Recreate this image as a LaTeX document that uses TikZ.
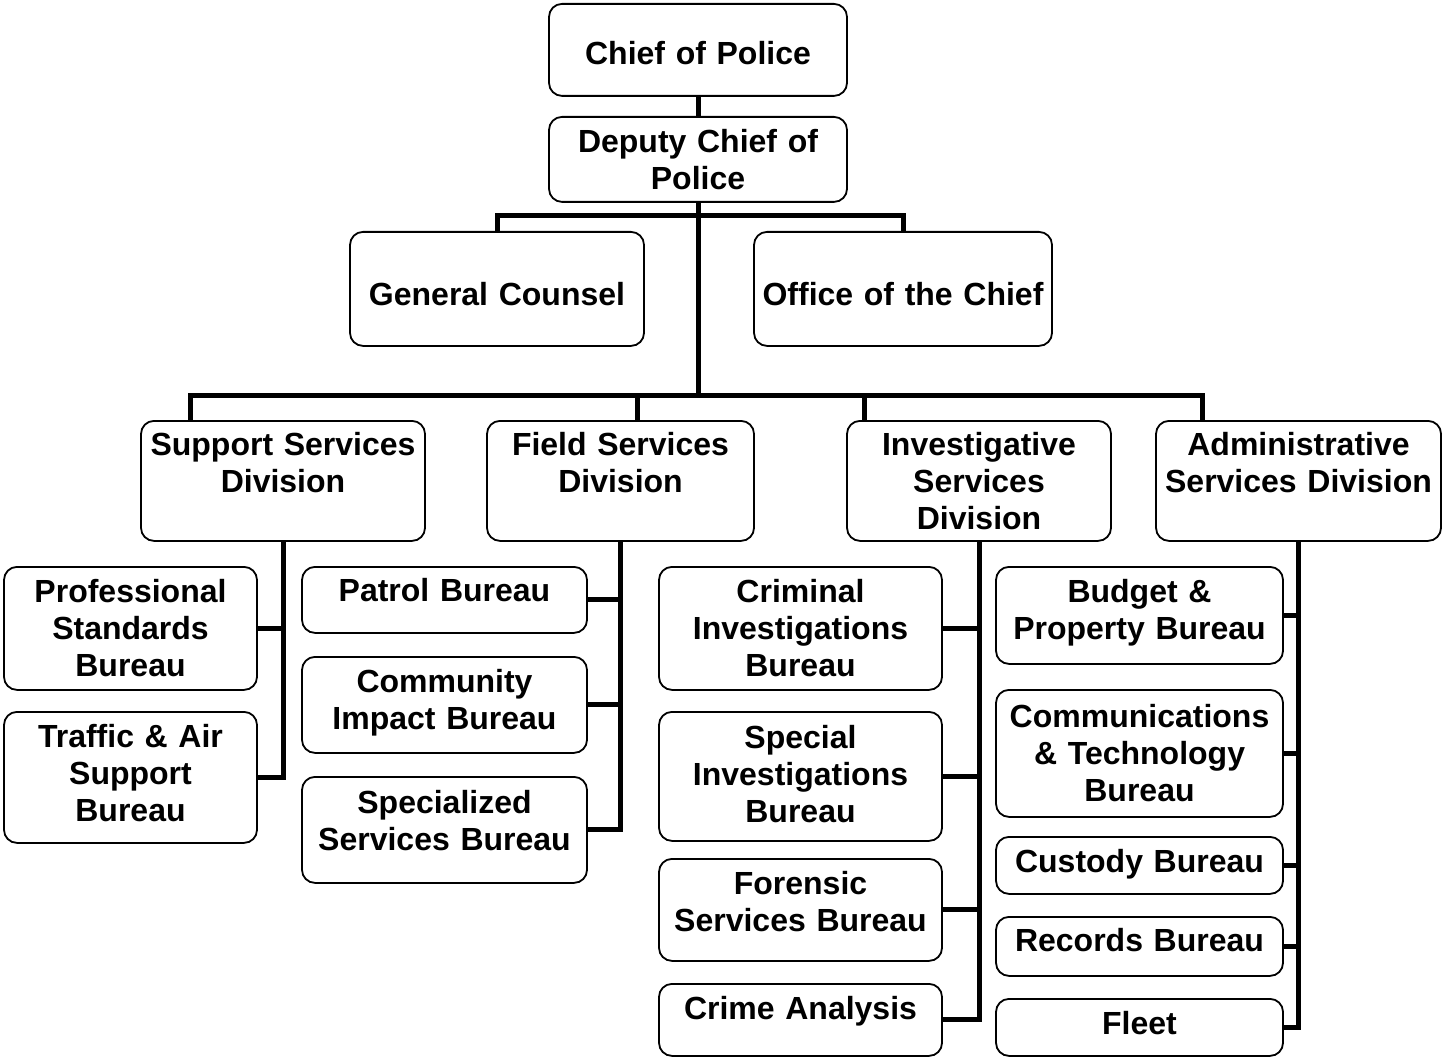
\documentclass[tikz,border=0pt]{standalone}
\usepackage{fontspec}
\setmainfont{Liberation Sans}

\begin{document}
\begin{tikzpicture}[x=1pt,y=-1pt]
    % set the style of the boxes and the links
    \tikzset{
        unit/.style={
            draw,
            line width=1.8pt,
            rounded corners=13pt,
            inner sep=0pt,
            anchor=north,
            align=center,
            text height=36pt,
            font=\fontsize{32}{37}\selectfont\bfseries
            },
        dims/.style 2 args={
            text width=#1pt,
            text depth=#2pt
            },
        link/.style={
            line width=5pt
            }
    }

    \useasboundingbox (0,0) rectangle (1442,1059);

    % top of the chart
    \node[unit, dims={298}{31.5}, text height=60.5pt] (chief) at (698,3) {Chief of Police};
    \node[unit, dims={298}{49.5}, text height=35.5pt] (deputy) at (698,116) {Deputy Chief of\\Police};
    \node[unit, dims={294}{40.5}, text height=73.5pt] (counsel) at (497,231) {General Counsel};
    \node[unit, dims={298}{40.5}, text height=73.5pt] (office) at (903,231) {Office of the Chief};

    % divisions
    \node[unit, dims={284}{85.5}, text height=34.5pt] (support) at (283,420) {Support Services\\Division};
    \node[unit, dims={267}{85.5}, text height=34.5pt] (field) at (620.5,420) {Field Services\\Division};
    \node[unit, dims={264}{85.5}, text height=34.5pt] (invest) at (979,420) {Investigative\\Services\\Division};
    \node[unit, dims={285}{85.5}, text height=34.5pt] (admin) at (1298.5,420) {Administrative\\Services Division};

    % bureaus of support services
    \node[unit, dims={253}{87}] (profstd) at (130.5,566) {Professional\\Standards\\Bureau};
    \node[unit, dims={253}{95}] (traffic) at (130.5,711) {Traffic \& Air\\Support\\Bureau};

    % bureaus of field services
    \node[unit, dims={285}{31.5}, text height=34.5pt] (patrol) at (444.5,566) {Patrol Bureau};
    \node[unit, dims={285}{60.5}, text height=35.5pt] (community) at (444.5,656) {Community\\Impact Bureau};
    \node[unit, dims={285}{69.5}, text height=36.5pt] (special) at (444.5,776) {Specialized\\Services Bureau};

    % bureaus of investigative services
    \node[unit, dims={283}{87}] (criminal) at (800.5,566) {Criminal\\Investigations\\Bureau};
    \node[unit, dims={283}{92}, text height=37pt] (specinv) at (800.5,711) {Special\\Investigations\\Bureau};
    \node[unit, dims={283}{66}] (forensic) at (800.5,858) {Forensic\\Services Bureau};
    \node[unit, dims={283}{36}] (analysis) at (800.5,983) {Crime Analysis};

    % bureaus of administrative services
    \node[unit, dims={287}{61.5}, text height=35.5pt] (budget) at (1139.5,566) {Budget \&\\Property Bureau};
    \node[unit, dims={287}{89.5}, text height=37.5pt] (comms) at (1139.5,689) {Communications\\\& Technology\\Bureau};
    \node[unit, dims={287}{21.5}, text height=35.5pt] (custody) at (1139.5,836) {Custody Bureau};
    \node[unit, dims={287}{24.5}, text height=34.5pt] (records) at (1139.5,916) {Records Bureau};
    \node[unit, dims={287}{21.5}, text height=35.5pt] (fleet) at (1139.5,998) {Fleet};

    % links at the top
    \draw[link] (chief) -- (deputy);
    \draw[link] (deputy.south) -- ++(0,194);
    \draw[link] (counsel.north) -- ++(0,-15) -| (office.north);

    % links to the divisions
    \draw[link] (support.north -| 190,0) -- ++(0,-25) -| (admin.north -| 1202,0);
    \draw[link] (field.north -| 637,0) -- ++(0,-25);
    \draw[link] (invest.north -| 864,0) -- ++(0,-25);

    % links to the bureaus
    \draw[link] (support.south) |- (traffic.east);
    \draw[link] (profstd.east) -- (profstd.east -| support.south);

    \draw[link] (field.south) |- (special.east);
    \draw[link] (patrol.east) -- (patrol.east -| field.south);
    \draw[link] (community.east) -- (community.east -| field.south);

    \draw[link] (invest.south) |- (analysis.east);
    \draw[link] (criminal.east) -- (criminal.east -| invest.south);
    \draw[link] (specinv.east) -- (specinv.east -| invest.south);
    \draw[link] (forensic.east) -- (forensic.east -| invest.south);

    \draw[link] (admin.south) |- (fleet.east);
    \draw[link] (budget.east) -- (budget.east -| admin.south);
    \draw[link] (comms.east) -- (comms.east -| admin.south);
    \draw[link] (custody.east) -- (custody.east -| admin.south);
    \draw[link] (records.east) -- (records.east -| admin.south);
\end{tikzpicture}
\end{document}
